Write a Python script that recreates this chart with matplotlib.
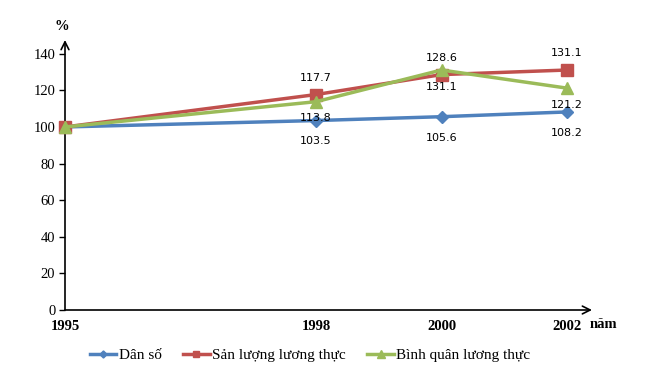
import matplotlib
matplotlib.use("Agg")
import matplotlib.pyplot as plt
from matplotlib.lines import Line2D

years = ["1995", "1998", "2000", "2002"]
dan_so = [100, 103.5, 105.6, 108.2]
san_luong = [100, 117.7, 128.6, 131.1]
binh_quan = [100, 113.8, 131.1, 121.2]
series_names = ["Dân số", "Sản lượng lương thực", "Bình quân lương thực"]
y_ticks = [0, 20, 40, 60, 80, 100, 120, 140]

# horizontal layout positions (as drawn in the reference)
xpos = [0, 2, 3, 4]

W, H = 655, 375
fig = plt.figure(figsize=(W / 100, H / 100), dpi=100)
left, right = 65, 592
bottom, top = 310, 40
ax = fig.add_axes([left / W, (H - bottom) / H, (right - left) / W, (bottom - top) / H])
ax.set_xlim(0, (right - left) / 125.5)
ax.set_ylim(0, 147.5)
ax.patch.set_alpha(0)
for s in ax.spines.values():
    s.set_visible(False)

serif = "Liberation Serif"
sans = "DejaVu Sans"

# axes with arrows
ax.annotate("", xy=(0, 1.0), xycoords="axes fraction", xytext=(0, 0),
            arrowprops=dict(arrowstyle="->", color="black", lw=1.2, mutation_scale=14,
                            shrinkA=0, shrinkB=0), clip_on=False)
ax.annotate("", xy=(1.0, 0), xycoords="axes fraction", xytext=(0, 0),
            arrowprops=dict(arrowstyle="->", color="black", lw=1.2, mutation_scale=14,
                            shrinkA=0, shrinkB=0), clip_on=False)

ax.set_yticks(y_ticks)
ax.set_yticklabels([str(v) for v in y_ticks], fontfamily=serif, fontsize=10.5)
ax.tick_params(axis="y", length=4, width=1, direction="out", pad=3)
ax.set_xticks(xpos)
ax.set_xticklabels(years, fontfamily=serif, fontsize=10.5, fontweight="bold")
ax.tick_params(axis="x", length=0, pad=7)

colors = ["#4F81BD", "#C0504D", "#9BBB59"]
markers = ["D", "s", "^"]
msizes = [6, 8, 9]
data = [dan_so, san_luong, binh_quan]
for vals, c, m, ms, name in zip(data, colors, markers, msizes, series_names):
    ax.plot(xpos, vals, color=c, lw=2.5, marker=m, markersize=ms, label=name,
            clip_on=False, zorder=3)

# data labels (skip first point)
offsets = [-15, 12, -12]
for vals, off in zip(data, offsets):
    for x, v in zip(xpos[1:], vals[1:]):
        ax.annotate(f"{v:.1f}", (x, v), xytext=(0, off), textcoords="offset points",
                    ha="center", va="center", fontsize=8, fontfamily=sans, zorder=5)

fig.text(62 / W, 1 - 27 / H, "%", ha="center", va="center", fontfamily=serif,
         fontsize=10.5, fontweight="bold")
fig.text(603 / W, 1 - 324 / H, "năm", ha="center", va="center", fontfamily=serif,
         fontsize=10.5, fontweight="bold")

handles = [Line2D([0], [0], color=c, lw=2.5, marker=m, markersize=ms * 0.6)
           for c, m, ms in zip(colors, markers, msizes)]
fig.legend(handles, series_names, loc="center", bbox_to_anchor=(310 / W, 1 - 355 / H),
           ncol=3, frameon=False, prop=dict(family=serif, size=11),
           handlelength=1.75, handletextpad=0.15, columnspacing=1.4)

fig.savefig("out.png", dpi=100)
